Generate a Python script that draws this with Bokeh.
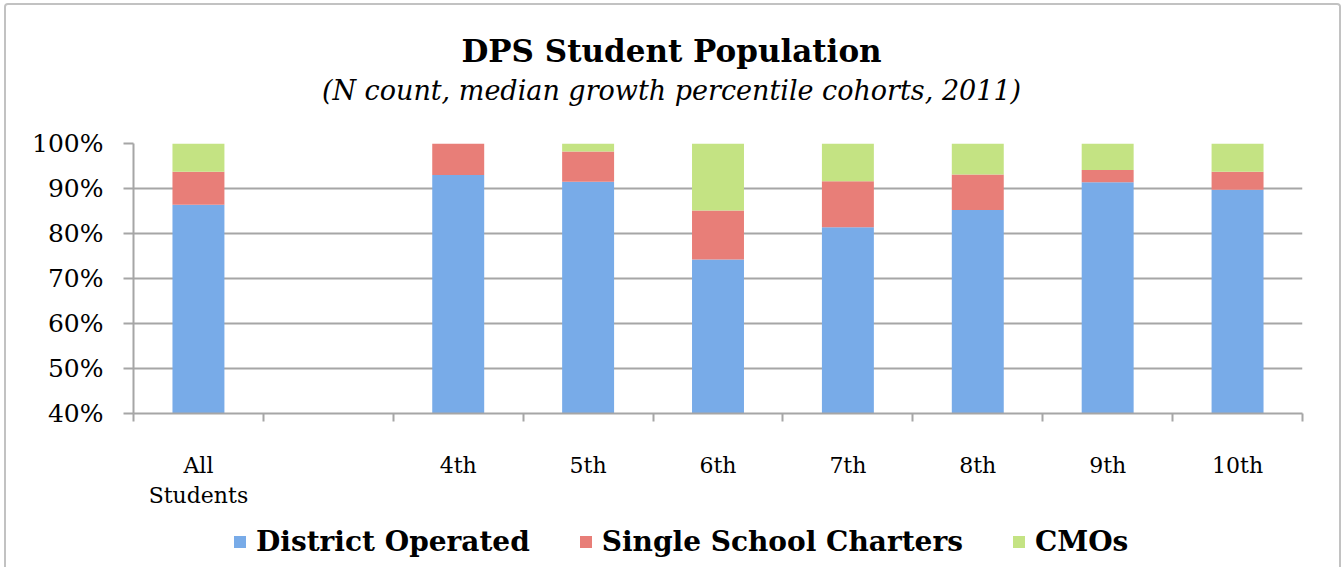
from bokeh.plotting import figure
from bokeh.layouts import column
from bokeh.models import (Range1d, FixedTicker, Legend, LegendItem, Label,
                          PrintfTickFormatter, ColumnDataSource)
from bokeh.embed import file_html
from bokeh.resources import INLINE

# ---- data -------------------------------------------------------------
categories = ["All\nStudents", "", "4th", "5th", "6th", "7th", "8th", "9th", "10th"]
district_operated = [86.4, 0.0, 93.0, 91.5, 74.2, 81.4, 85.2, 91.4, 89.7]
single_school_charters = [7.3, 0.0, 7.0, 6.7, 10.9, 10.2, 7.9, 2.7, 4.0]
cmos = [6.3, 0.0, 0.0, 1.8, 14.9, 8.4, 6.9, 5.9, 6.3]
series_names = ["District Operated", "Single School Charters", "CMOs"]
y_ticks = [40, 50, 60, 70, 80, 90, 100]
title_text = "DPS Student Population"
subtitle_text = "(N count, median growth percentile cohorts, 2011)"

FONT = "DejaVu Serif"
colors = ["#78abe8", "#e87e78", "#c4e383"]
W = 1333

xs = [i + 0.5 for i in range(len(categories))]
src = ColumnDataSource(dict(x=xs, district=district_operated,
                            single=single_school_charters, cmos=cmos))
stackers = ["district", "single", "cmos"]

# ---- header (title + subtitle) ---------------------------------------
head = figure(width=W, height=110, output_backend="svg", toolbar_location=None,
              x_axis_type=None, y_axis_type=None, min_border=0,
              x_range=Range1d(0, 1), y_range=Range1d(0, 1))
head.outline_line_color = None
head.grid.visible = False
head.add_layout(Label(x=538, y=65, x_units="screen", y_units="screen",
                      text=title_text, text_font=FONT, text_font_style="bold",
                      text_font_size="31px", text_align="center",
                      text_baseline="middle", text_color="black"))
head.add_layout(Label(x=538, y=25, x_units="screen", y_units="screen",
                      text=subtitle_text, text_font=FONT, text_font_style="italic",
                      text_font_size="27px", text_align="center",
                      text_baseline="middle", text_color="black"))

# ---- main chart --------------------------------------------------------
p = figure(width=W, height=400, output_backend="svg", toolbar_location=None,
           x_range=Range1d(0, len(categories)), y_range=Range1d(40, 100),
           min_border_left=127, min_border_right=37, min_border_top=28,
           min_border_bottom=102)
p.outline_line_color = None

p.vbar_stack(stackers, x="x", width=0.4, color=colors, line_color=None, source=src)

p.xaxis.ticker = FixedTicker(ticks=xs, minor_ticks=list(range(len(categories) + 1)))
p.xaxis.major_label_overrides = {x: c for x, c in zip(xs, categories)}
p.xaxis.major_tick_out = 0
p.xaxis.major_tick_in = 0
p.xaxis.minor_tick_out = 8
p.xaxis.minor_tick_in = 0
p.xaxis.minor_tick_line_color = "#a6a6a6"
p.xaxis.minor_tick_line_width = 2
p.xaxis.axis_line_color = "#a6a6a6"
p.xaxis.axis_line_width = 2
p.xaxis.major_label_text_font = FONT
p.xaxis.major_label_text_font_size = "22px"
p.xaxis.major_label_text_color = "black"
p.xaxis.major_label_standoff = 31

p.yaxis.ticker = FixedTicker(ticks=y_ticks)
p.yaxis.formatter = PrintfTickFormatter(format="%d%%")
p.yaxis.major_tick_out = 10
p.yaxis.major_tick_in = 0
p.yaxis.minor_tick_out = 0
p.yaxis.minor_tick_in = 0
p.yaxis.major_tick_line_color = "#a6a6a6"
p.yaxis.major_tick_line_width = 2
p.yaxis.axis_line_color = "#a6a6a6"
p.yaxis.axis_line_width = 2
p.yaxis.major_label_text_font = FONT
p.yaxis.major_label_text_font_size = "25px"
p.yaxis.major_label_text_color = "black"
p.yaxis.major_label_standoff = 20

p.xgrid.grid_line_color = None
p.ygrid.grid_line_color = "#a6a6a6"
p.ygrid.grid_line_width = 2

# ---- legend strip (same series, ranges chosen so only the legend shows) --
leg = figure(width=W, height=52, output_backend="svg", toolbar_location=None,
             x_axis_type=None, y_axis_type=None, min_border=0,
             x_range=Range1d(100, 101), y_range=Range1d(200, 201))
leg.outline_line_color = None
leg.grid.visible = False
leg_rs = leg.vbar_stack(stackers, x="x", width=0.4, color=colors,
                        line_color=None, source=src)
legend = Legend(items=[LegendItem(label=n, renderers=[r]) for n, r in zip(series_names, leg_rs)],
                orientation="horizontal", location=(99, 9),
                glyph_width=15, glyph_height=15, label_standoff=9, spacing=48,
                padding=0, margin=0, border_line_color=None,
                background_fill_alpha=0,
                label_text_font=FONT, label_text_font_style="bold",
                label_text_font_size="28px", label_text_color="black")
leg.add_layout(legend, "center")

layout = column(head, p, leg, spacing=0,
                styles={"border-top": "2px solid #c2c2c2",
                        "border-left": "2px solid #c2c2c2",
                        "border-right": "2px solid #c2c2c2",
                        "border-radius": "4px 4px 0 0",
                        "margin-left": "4px", "margin-top": "3px"})

open("out.html", "w").write(file_html(layout, INLINE))
